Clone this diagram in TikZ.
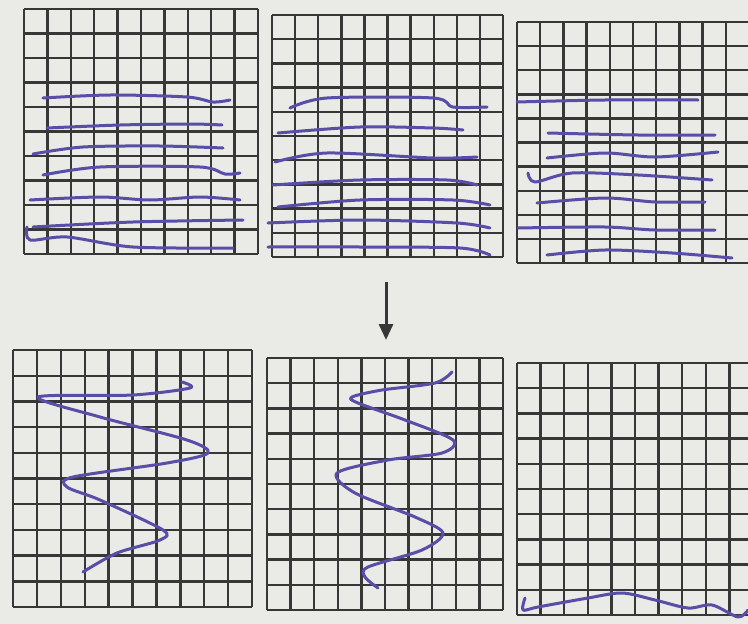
\documentclass[tikz,border=0pt]{standalone}
\usepackage{xcolor}
\usepackage{tikz}
\usetikzlibrary{arrows.meta}
\definecolor{paper}{RGB}{234, 234, 230}
\definecolor{gridgray}{RGB}{55, 55, 55}
\definecolor{inkblue}{RGB}{88, 78, 168}

\begin{document}
\begin{tikzpicture}[
  x=1pt, y=-1pt,
  gridline/.style={draw=gridgray, line width=2.4pt},
  ink/.style={draw=inkblue, line width=3pt, line cap=round, line join=round},
  arr/.style={-{Triangle[length=16pt, width=14pt]}, draw=gridgray, line width=3pt}
]
  % Paper
  \fill[paper] (0,0) rectangle (748,624);
  \useasboundingbox (0,0) rectangle (748,624);
  \clip (0,0) rectangle (748,624);

  % Grids (10 x 10)
  \foreach \gx/\gy/\gw/\gh in {24/9/234/245, 272/15/231/242, 517/22/232/241,
                                13/350/239/257, 267/358/236/252, 517/363/236/252} {
    \foreach \i in {0,...,10} {
      \draw[gridline] (\gx+\i*\gw/10, \gy) -- ++(0,\gh);
      \draw[gridline] (\gx, \gy+\i*\gh/10) -- ++(\gw,0);
    }
  }

  % Top left
  \draw[ink] plot[smooth] coordinates {(43,98) (110,95) (187,97) (213,102) (230,100)};
  \draw[ink] plot[smooth] coordinates {(47,128) (120,125) (190,124) (222,125)};
  \draw[ink] plot[smooth] coordinates {(33,154) (83,147) (160,146) (223,148)};
  \draw[ink] plot[smooth] coordinates {(43,175) (100,167) (200,167) (225,174) (240,173)};
  \draw[ink] plot[smooth] coordinates {(30,200) (100,197) (150,200) (200,197) (240,200)};
  \draw[ink] plot[smooth] coordinates {(33,227) (133,222) (243,220)};
  \draw[ink] plot[smooth] coordinates {(27,227) (30,240) (67,237) (133,247) (233,248)};

  % Top middle
  \draw[ink] plot[smooth] coordinates {(290,108) (327,98) (433,98) (453,107) (487,107)};
  \draw[ink] plot[smooth] coordinates {(278,133) (360,127) (433,128) (463,130)};
  \draw[ink] plot[smooth] coordinates {(275,162) (327,153) (433,158) (477,157)};
  \draw[ink] plot[smooth] coordinates {(273,185) (360,180) (447,180) (477,185)};
  \draw[ink] plot[smooth] coordinates {(278,207) (360,200) (453,200) (490,205)};
  \draw[ink] plot[smooth] coordinates {(268,223) (360,220) (457,223) (490,228)};
  \draw[ink] plot[smooth] coordinates {(268,247) (360,247) (460,248) (490,255)};

  % Top right
  \draw[ink] plot[smooth] coordinates {(517,102) (605,100) (698,100)};
  \draw[ink] plot[smooth] coordinates {(548,133) (638,135) (715,135)};
  \draw[ink] plot[smooth] coordinates {(547,158) (605,153) (655,157) (718,152)};
  \draw[ink] plot[smooth] coordinates {(528,173) (535,182) (572,173) (638,175) (712,180)};
  \draw[ink] plot[smooth] coordinates {(537,203) (605,198) (655,202) (705,202)};
  \draw[ink] plot[smooth] coordinates {(518,228) (605,227) (655,230) (715,230)};
  \draw[ink] plot[smooth] coordinates {(547,255) (605,250) (672,253) (732,258)};

  % Arrow
  \coordinate (arrtop) at (386,282);
  \coordinate (arrtip) at (386,340);
  \draw[arr] (arrtop) -- (arrtip);

  % Bottom left
  \draw[ink] plot[smooth] coordinates {(182,382) (190,388) (133,395) (38,397)
    (100,417) (187,440) (208,453) (167,463) (73,477) (67,487) (100,500)
    (163,530) (160,540) (117,553) (83,572)};

  % Bottom middle
  \draw[ink] plot[smooth] coordinates {(452,372) (435,383) (382,390) (352,397)
    (358,403) (405,420) (453,440) (442,453) (388,460) (337,473) (355,493)
    (415,517) (443,533) (422,550) (368,567) (365,577) (378,588)};

  % Bottom right
  \draw[ink] plot[smooth] coordinates {(525,598) (523,610) (538,607) (588,598)
    (622,593) (655,600) (688,608) (712,605) (738,617) (748,610)};
\end{tikzpicture}
\end{document}
